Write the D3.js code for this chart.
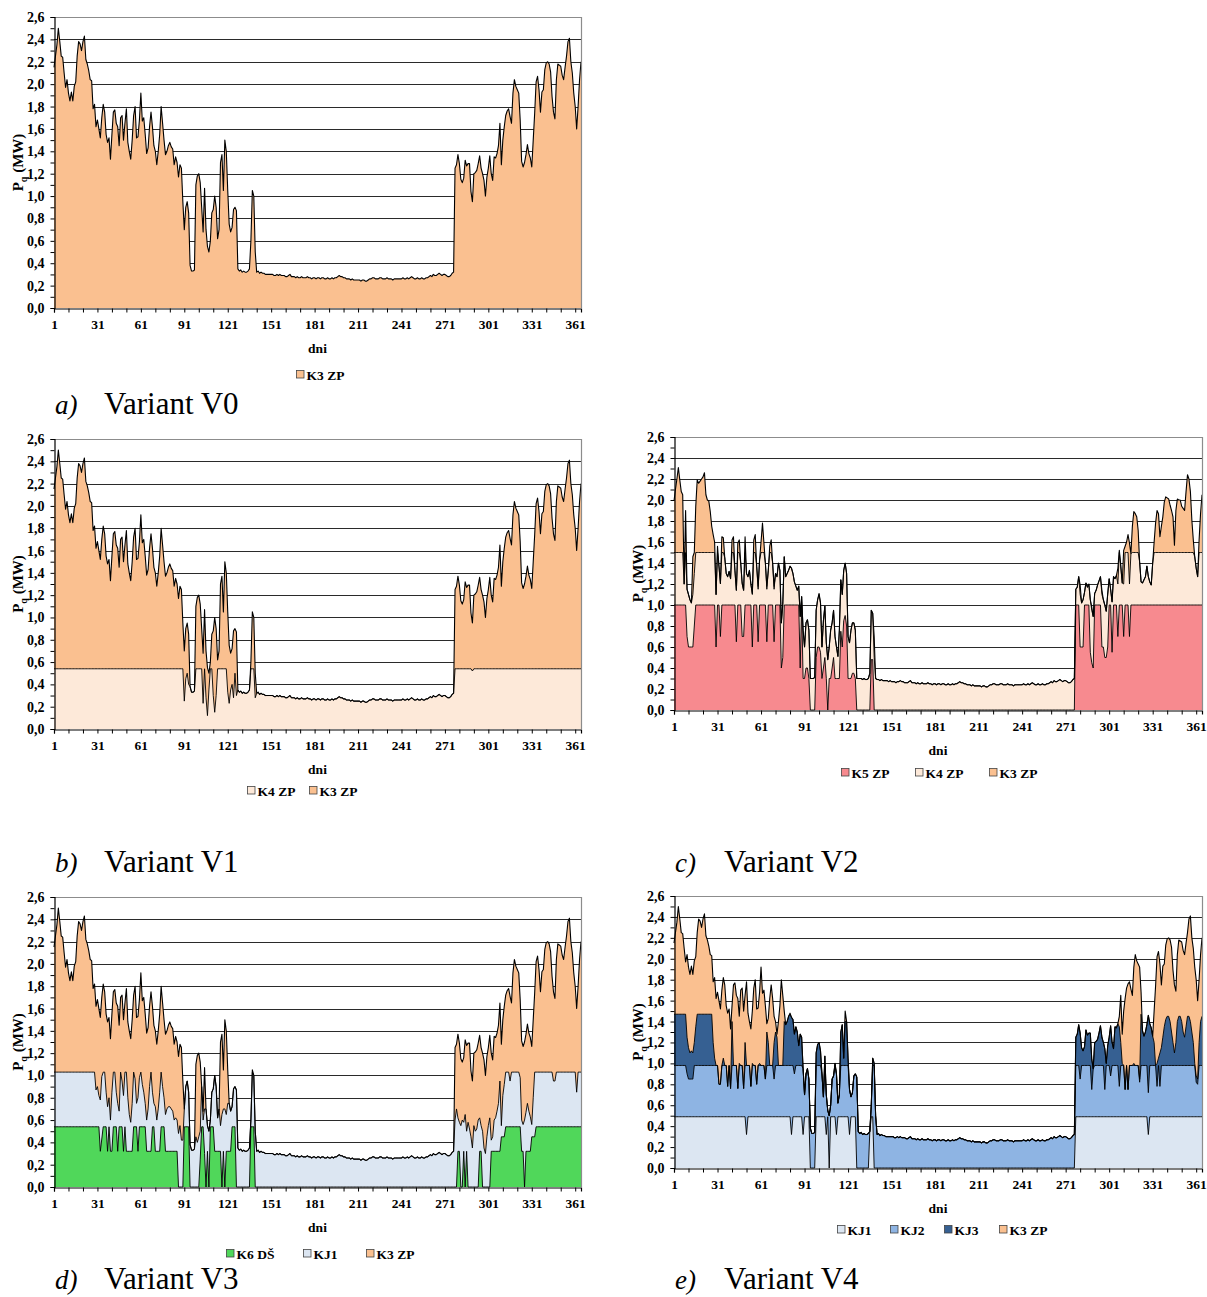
<!DOCTYPE html>
<html><head><meta charset="utf-8">
<script src="https://cdn.jsdelivr.net/npm/d3@7"></script>
<style>
body{margin:0;background:#fff}
svg{display:block}
text{font-family:"Liberation Serif","Times New Roman",serif}
</style>
</head><body>
<svg id="c" width="1207" height="1297"></svg>
<script>
// ---------------- DATA ----------------
const xTickLabels = [1,31,61,91,121,151,181,211,241,271,301,331,361];
const yTickLabels = [0,0.2,0.4,0.6,0.8,1.0,1.2,1.4,1.6,1.8,2.0,2.2,2.4,2.6];

// total daily heat load (variants V0, V1, V3, V4), MW
const demand = [
 2.15,2.25,2.35,2.5,2.38,2.25,2.24,2.1,1.97,2.04,1.92,1.85,1.93,1.85,1.98,2.02,2.25,2.38,2.36,2.3,2.38,2.43,2.22,2.18,2.12,2.04,2.03,1.78,1.82,1.62,
 1.68,1.6,1.52,1.7,1.82,1.75,1.55,1.48,1.52,1.33,1.55,1.75,1.77,1.65,1.62,1.45,1.7,1.72,1.5,1.65,1.78,1.48,1.4,1.33,1.5,1.72,1.8,1.52,1.53,1.68,
 1.92,1.67,1.7,1.55,1.38,1.43,1.62,1.75,1.62,1.45,1.4,1.28,1.4,1.55,1.8,1.65,1.5,1.37,1.4,1.45,1.48,1.44,1.42,1.28,1.35,1.3,1.17,1.28,1.25,0.95,
 0.7,0.9,0.95,0.85,0.38,0.33,0.33,0.34,1.1,1.18,1.2,1.12,0.9,0.68,1.07,0.7,0.55,0.5,0.6,0.85,0.88,1.0,0.9,0.62,0.7,1.3,1.37,1.05,1.5,1.4,
 1.05,0.75,0.68,0.72,0.88,0.9,0.87,0.35,0.33,0.34,0.32,0.33,0.32,0.32,0.33,0.35,0.6,1.05,1.0,0.5,0.32,0.33,0.31,0.32,0.31,0.31,0.30,0.30,0.30,0.30,
 0.30,0.30,0.29,0.29,0.30,0.29,0.30,0.29,0.29,0.29,0.28,0.28,0.29,0.30,0.28,
 0.28,0.28,0.27,0.28,0.27,0.27,0.28,0.27,0.27,0.27,0.28,0.27,0.27,0.26,0.27,
 0.27,0.26,0.27,0.27,0.26,0.27,0.27,0.26,0.26,0.27,0.26,0.26,0.27,0.26,0.27,
 0.27,0.28,0.29,0.28,0.28,0.27,0.27,0.26,0.26,0.26,0.25,0.26,0.25,0.25,0.25,
 0.25,0.25,0.24,0.25,0.25,0.24,0.24,0.25,0.26,0.26,0.27,0.27,0.26,0.26,0.26,
 0.27,0.27,0.26,0.26,0.26,0.27,0.26,0.26,0.26,0.25,0.26,0.26,0.26,0.26,0.26,
 0.26,0.27,0.26,0.26,0.27,0.26,0.27,0.28,0.27,0.26,0.26,0.27,0.26,0.26,0.27,
 0.26,0.26,0.27,0.27,0.28,0.29,0.28,0.30,0.29,0.29,0.30,0.31,0.30,0.29,0.30,
 0.30,0.29,0.28,0.28,0.29,0.31,0.32,
 1.25,1.28,1.37,1.29,1.15,1.12,1.16,1.32,1.27,1.29,1.29,1.04,0.95,
 1.2,1.21,1.23,1.29,1.36,1.25,1.2,1.14,1.0,1.17,1.25,1.36,1.2,1.14,1.35,1.34,1.38,1.45,1.65,1.28,
 1.5,1.62,1.72,1.76,1.78,1.71,1.65,1.92,2.04,1.98,1.95,1.92,1.68,1.31,1.26,1.3,1.37,1.46,1.38,1.34,
 1.26,1.5,1.74,2.02,2.07,1.95,1.75,1.93,1.95,2.13,2.19,2.2,2.18,2.11,1.89,1.75,1.69,2.04,2.18,2.17,
 2.16,2.08,2.04,2.15,2.25,2.38,2.41,2.2,2.1,1.92,1.8,1.6,1.8,2.04,2.2
];

// total daily heat load in variant V2, MW
const demandV2 = [
 1.99,2.1,2.2,2.31,2.19,2.08,2.05,1.2,1.9,1.15,1.1,1.05,1.02,1.46,1.5,1.94,2.19,2.16,2.18,2.2,2.22,2.26,2.05,2.0,1.99,1.89,1.75,1.67,1.6,1.1,
 1.56,1.37,1.21,1.65,1.64,1.45,1.3,1.27,1.32,1.25,1.62,1.65,1.33,1.14,1.59,1.62,1.4,1.21,1.14,1.65,1.3,1.27,1.33,1.2,1.11,1.62,1.67,1.37,1.18,1.43,
 1.6,1.78,1.59,1.4,1.18,1.33,1.56,1.62,1.4,1.18,1.3,1.27,1.4,1.33,0.83,1.02,1.46,1.27,1.3,1.33,1.37,1.35,1.3,1.22,1.18,1.14,1.18,0.89,1.08,0.76,
 0.6,0.83,0.86,0.76,0.3,0.3,0.3,0.31,0.95,1.05,1.11,1.02,0.6,0.85,0.99,0.64,0.48,0.6,0.76,0.83,0.95,0.7,0.6,0.51,0.76,1.24,1.1,1.33,1.4,1.3,
 0.7,0.64,0.76,0.83,0.83,0.76,0.3,0.3,0.3,0.3,0.29,0.3,0.29,0.29,0.3,0.35,0.95,0.92,0.7,0.3,0.29,0.29,0.28,0.29,0.28,0.28,0.28,0.28,0.27,0.28,
 0.27,0.27,0.27,0.26,0.27,0.27,0.28,0.27,0.27,0.26,0.26,0.26,0.27,0.28,0.26,
 0.26,0.26,0.25,0.26,0.25,0.25,0.26,0.25,0.25,0.25,0.26,0.25,0.25,0.24,0.25,
 0.25,0.24,0.25,0.25,0.24,0.25,0.25,0.24,0.24,0.25,0.24,0.24,0.25,0.24,0.25,
 0.25,0.26,0.27,0.26,0.26,0.25,0.25,0.24,0.24,0.24,0.23,0.24,0.23,0.23,0.23,
 0.23,0.23,0.22,0.23,0.23,0.22,0.22,0.23,0.24,0.24,0.25,0.25,0.24,0.24,0.24,
 0.25,0.25,0.24,0.24,0.24,0.25,0.24,0.24,0.24,0.23,0.24,0.24,0.24,0.24,0.24,
 0.24,0.25,0.24,0.24,0.25,0.24,0.25,0.26,0.25,0.24,0.24,0.25,0.24,0.24,0.25,
 0.24,0.24,0.25,0.25,0.26,0.27,0.26,0.28,0.27,0.27,0.28,0.29,0.28,0.27,0.28,
 0.28,0.27,0.26,0.26,0.27,0.29,0.30,
 1.15,1.17,1.27,1.19,1.02,1.05,1.12,1.21,1.17,1.2,1.05,0.98,0.89,
 1.11,1.14,1.19,1.23,1.27,1.14,1.05,1.0,0.94,1.11,1.25,1.15,1.03,1.27,1.25,1.28,1.35,1.52,1.37,1.21,
 1.52,1.56,1.6,1.67,1.59,1.49,1.75,1.89,1.87,1.84,1.71,1.41,1.22,1.21,1.24,1.27,1.37,1.27,1.22,1.19,
 1.4,1.6,1.78,1.9,1.87,1.65,1.75,1.84,1.98,2.03,2.02,2.01,1.95,1.9,1.84,1.57,1.9,2.01,2.0,2.0,
 1.94,1.92,1.9,2.08,2.24,2.2,2.08,1.81,1.62,1.46,1.35,1.27,1.62,1.87,2.05
];

// cumulative upper limits of the lower layers: [fromDay, toDay, MW]
const k4V1Base = [[1,365,0.54]];
const k4V1Over = [[91,91,0.25],[92,92,0.45],[93,93,0.5],[94,94,0.4],[104,104,0.23],[106,106,0.28],[107,107,0.12],[108,108,0.35],[111,111,0.3],[112,112,0.15],[113,113,0.3],[121,121,0.33],[122,122,0.23],[123,123,0.35],[124,124,0.4],[125,125,0.28],[126,126,0.5],[127,127,0.3],[140,140,0.28],[290,290,0.52]];

const k5V2Base = [[1,90,1.0],[91,277,0],[278,365,1.0]];
const k5V2Over = [[10,10,0.7],[11,14,0.6],[15,15,0.8],[30,30,0.6],[33,33,0.7],[44,44,0.65],[48,49,0.7],[55,55,0.6],[59,59,0.65],[65,65,0.65],[70,70,0.65],[75,75,0.4],[76,76,0.5],[88,88,0.4],[90,90,0.3],
 [91,91,0.3],[92,93,0.4],[94,94,0.3],[99,99,0.5],[100,101,0.6],[102,102,0.55],[103,103,0.3],[104,104,0.4],[105,105,0.5],[106,106,0.3],[108,115,0.3],[110,110,0.4],[111,111,0.5],[116,116,0.75],[117,117,0.6],[118,118,0.85],[119,119,0.9],[120,120,0.8],[121,123,0.3],[124,125,0.35],[126,126,0.3],[137,138,0.48],
 [281,283,0.6],[288,288,0.55],[289,289,0.45],[290,290,0.4],[296,297,0.6],[298,299,0.5],[300,300,0.6],[303,303,0.55],[307,307,0.7],[311,311,0.7],[315,315,0.7]];
const k4V2Output = 0.5; // K4 ZP output stacked on K5 ZP

const k6V3Base = [[1,90,0.54],[91,277,0],[278,365,0.54]];
const k6V3Over = [[33,33,0.32],[34,34,0.43],[38,38,0.32],[40,41,0.32],[45,45,0.32],[49,49,0.32],[51,55,0.32],[59,59,0.32],[65,68,0.32],[71,74,0.32],[78,86,0.32],[87,90,0],[91,94,0.54],[102,102,0.25],[103,104,0.54],[105,105,0.3],[107,107,0.32],[109,111,0.54],[112,116,0.32],[118,118,0.32],[120,123,0.32],[124,126,0.54],[137,139,0.54],
 [278,279,0],[280,281,0.32],[282,283,0],[284,284,0.32],[285,285,0],[286,286,0.32],[287,302,0],[295,296,0.32],[303,309,0.32],[310,312,0.45],[324,325,0.32],[326,326,0],[327,330,0.32],[331,333,0.45]];
const kj1V3Base = [[1,365,1.03]];
const kj1V3Over = [[30,30,0.87],[31,31,0.9],[32,32,0.82],[33,33,0.78],[34,34,0.99],[37,37,0.85],[38,38,0.72],[39,39,0.8],[40,40,0.6],[41,41,0.85],[44,44,0.85],[45,45,0.75],[46,46,0.68],[48,48,0.95],[49,49,0.82],[52,52,0.8],[53,53,0.65],[54,54,0.58],[55,55,0.75],[57,57,0.97],[58,58,0.75],[59,59,0.8],[60,60,0.98],[62,62,0.92],[63,63,0.85],[64,64,0.75],[65,65,0.6],[66,66,0.7],[67,67,0.9],[69,69,0.85],[70,70,0.75],[71,71,0.72],[72,72,0.6],[73,73,0.7],[74,74,0.85],[76,76,0.9],[77,77,0.8],[78,78,0.65],[79,79,0.7],[80,81,0.72],[82,82,0.7],[83,83,0.68],[84,84,0.6],[85,85,0.62],[86,86,0.6],[87,87,0.48],[88,88,0.55],[89,90,0.42],
 [99,99,0.45],[100,100,0.4],[101,101,0.45],[102,102,0.5],[104,104,0.6],[105,105,0.7],[116,116,0.55],[117,117,0.65],[118,119,0.7],[120,120,0.65],[121,121,0.75],
 [278,278,0.6],[279,279,0.7],[280,280,0.62],[281,281,0.58],[282,282,0.55],[283,283,0.6],[284,284,0.58],[285,285,0.65],[286,286,0.5],[287,287,0.58],[288,288,0.52],[289,289,0.45],[290,290,0.35],[291,291,0.55],[292,292,0.5],[293,293,0.52],[294,294,0.6],[295,295,0.62],[296,296,0.55],[297,297,0.5],[298,298,0.35],[299,299,0.3],[300,300,0.45],[301,301,0.55],[302,302,0.62],[303,303,0.42],[304,304,0.45],[305,305,0.6],[306,306,0.62],[307,307,0.68],[308,308,0.75],[309,309,0.95],[310,310,0.55],[311,311,0.82],[312,312,0.92],[316,316,0.95],[323,323,0.98],[324,324,0.6],[325,325,0.56],[326,326,0.6],[327,327,0.67],[328,328,0.75],[329,329,0.68],[330,330,0.63],[331,331,0.56],[332,332,0.8],[346,347,0.95],[362,362,0.85]];

const kj1V4Base = [[1,94,0.49],[95,98,0],[99,107,0.49],[108,108,0],[109,126,0.49],[127,135,0],[136,138,0.49],[139,277,0],[278,365,0.49]];
const kj1V4Over = [[51,51,0.32],[82,82,0.32],[90,90,0.32],[106,106,0.32],[113,113,0.32],[122,122,0.32],[328,328,0.32]];
const kj2V4Base = [[1,365,0.98]];
const kj2V4Over = [[10,10,0.9],[11,14,0.85],[32,33,0.8],[38,38,0.78],[40,40,0.76],[45,45,0.76],[49,49,0.76],[54,54,0.78],[58,58,0.8],[64,64,0.85],[70,70,0.85],[84,84,0.9],[281,281,0.85],[289,289,0.75],[298,298,0.75],[302,302,0.88],[308,308,0.78],[312,312,0.75],[314,314,0.75],[322,322,0.82],[328,328,0.72],[334,334,0.78],[336,336,0.78],[361,361,0.82],[362,362,0.8]];
const kj3V4Base = [[1,365,1.47]];
const kj3V4Over = [[10,10,1.25],[11,11,1.15],[12,12,1.1],[13,13,1.12],[14,14,1.1],[15,15,1.2],[16,16,1.35],[28,28,1.2],[29,29,1.05],[30,30,0.95],[31,31,0.85],[32,32,0.8],[33,33,0.78],[34,34,0.85],[35,35,1.05],[36,36,0.9],[37,37,0.8],[38,38,0.76],[39,39,0.8],[40,40,0.75],[41,41,1.4],[42,42,0.98],[43,43,0.85],[44,44,0.8],[45,45,0.76],[46,46,1.0],[47,47,0.8],[48,48,0.85],[49,49,0.75],[50,50,1.2],[51,51,0.9],[52,52,0.85],[53,53,0.78],[54,54,0.76],[55,55,1.0],[56,56,0.85],[57,57,0.8],[58,58,0.8],[59,59,0.85],[60,60,1.0],[61,61,0.9],[62,62,0.85],[63,63,0.8],[64,64,0.85],[65,65,1.3],[66,66,1.2],[67,67,0.8],[68,68,0.8],[69,69,0.85],[70,70,1.2],[71,71,1.3],[72,72,1.25],[73,73,0.9],[74,74,0.85],[75,75,0.85],[76,76,0.95],[77,77,1.4],[119,119,1.4],
 [308,308,1.35],[309,309,1.2],[310,310,1.0],[311,311,0.8],[312,312,0.75],[313,313,0.78],[314,314,0.75],[315,315,0.85],[316,316,0.9],[317,317,0.95],[318,318,1.0],[319,319,0.95],[320,320,0.9],[321,321,0.95],[322,322,0.85],[332,332,1.2],[333,333,0.95],[334,334,1.0],[335,335,1.05],[336,336,1.1],[337,337,1.15],[338,338,1.25],[339,339,1.35],[340,340,1.42],[341,342,1.45],[343,343,1.4],[344,344,1.3],[345,345,1.2],[346,346,1.1],[347,347,1.2],[348,348,1.4],[349,350,1.45],[351,351,1.4],[352,352,1.3],[353,353,1.25],[354,354,1.35],[355,356,1.45],[357,357,1.4],[358,358,1.3],[359,359,1.2],[360,360,1.0],[361,361,0.88],[362,362,0.85],[363,363,1.2],[364,364,1.4],[365,365,1.45]];

// ---------------- HELPERS ----------------
const N = 365;
function series(base, over) {
  const a = new Array(N).fill(0);
  base.concat(over || []).forEach(([f,t,v]) => { for (let d=f; d<=t; d++) a[d-1]=v; });
  return a;
}
const COL = {
  K3: '#FAC090', K4: '#FDE9D9', K5: '#F78A8F', K6: '#50D75A',
  KJ1: '#DCE6F2', KJ2: '#8EB4E3', KJ3: '#366092'
};

const k5V2 = series(k5V2Base, k5V2Over);
const k45V2 = k5V2.map(v => v + k4V2Output);

const panels = [
 {x0:54, x1:581, y0:17, y1:308, dem:demand,
  layers:[{name:'K3 ZP', color:COL.K3, ceil:null}],
  legendX:[296], legendDy:67, cap:['a)','Variant V0'], capX:55, capY:414, titleX:18},
 {x0:54, x1:581, y0:439, y1:729, dem:demand,
  layers:[{name:'K4 ZP', color:COL.K4, ceil:series(k4V1Base,k4V1Over)},{name:'K3 ZP', color:COL.K3, ceil:null}],
  legendX:[247,309], legendDy:62, cap:['b)','Variant V1'], capX:55, capY:872, titleX:18},
 {x0:674, x1:1202, y0:437, y1:710, dem:demandV2,
  layers:[{name:'K5 ZP', color:COL.K5, ceil:k5V2},{name:'K4 ZP', color:COL.K4, ceil:k45V2},{name:'K3 ZP', color:COL.K3, ceil:null}],
  legendX:[841,915,989], legendDy:63, cap:['c)','Variant V2'], capX:675, capY:872, titleX:638},
 {x0:54, x1:581, y0:897, y1:1187, dem:demand,
  layers:[{name:'K6 DŠ', color:COL.K6, ceil:series(k6V3Base,k6V3Over)},{name:'KJ1', color:COL.KJ1, ceil:series(kj1V3Base,kj1V3Over)},{name:'K3 ZP', color:COL.K3, ceil:null}],
  legendX:[226,303,366], legendDy:67, cap:['d)','Variant V3'], capX:55, capY:1289, titleX:18},
 {x0:674, x1:1202, y0:896, y1:1168, dem:demand,
  layers:[{name:'KJ1', color:COL.KJ1, ceil:series(kj1V4Base,kj1V4Over)},{name:'KJ2', color:COL.KJ2, ceil:series(kj2V4Base,kj2V4Over)},{name:'KJ3', color:COL.KJ3, ceil:series(kj3V4Base,kj3V4Over)},{name:'K3 ZP', color:COL.K3, ceil:null}],
  legendX:[837,890,944,999], legendDy:62, cap:['e)','Variant V4'], capX:675, capY:1289, titleX:638}
];

const svg = d3.select('#c');
const fmt = v => d3.format('.1f')(v).replace('.', ',');

panels.forEach(p => {
  const days = d3.range(1, N+1);
  const x = d3.scaleLinear().domain([1, N]).range([p.x0, p.x1]);
  const y = d3.scaleLinear().domain([0, 2.6]).range([p.y1, p.y0]);
  const g = svg.append('g');

  // cumulative tops
  let prev = new Array(N).fill(0);
  const tops = p.layers.map(L => {
    const t = p.dem.map((v, i) => L.ceil ? Math.max(prev[i], Math.min(v, L.ceil[i])) : v);
    prev = t; return t;
  });

  // gridlines
  g.selectAll('line.grid').data(yTickLabels.filter(v => v > 0 && v < 2.6)).enter()
    .append('line').attr('x1', p.x0).attr('x2', p.x1)
    .attr('y1', d => Math.round(y(d)) + 0.5).attr('y2', d => Math.round(y(d)) + 0.5)
    .attr('stroke', '#2a2a2a').attr('stroke-width', 1);

  // areas: paint from top layer down
  for (let i = p.layers.length - 1; i >= 0; i--) {
    const t = tops[i];
    const area = d3.area().x((d, j) => x(days[j])).y0(y(0)).y1((d, j) => y(t[j]));
    g.append('path').datum(t).attr('d', area).attr('fill', p.layers[i].color);
  }
  // boundary lines
  tops.forEach((t, i) => {
    const line = d3.line().x((d, j) => x(days[j])).y(d => y(d));
    g.append('path').datum(t).attr('d', line).attr('fill', 'none')
      .attr('stroke', '#000').attr('stroke-width', i === tops.length - 1 ? 1.1 : 0.9)
      .attr('stroke-linejoin', 'round');
  });

  // frame (top & right)
  g.append('path').attr('d', `M${p.x0},${p.y0 + 0.5}H${p.x1 + 0.5}V${p.y1}`)
    .attr('fill', 'none').attr('stroke', '#8c8c8c').attr('stroke-width', 1.2);

  // y axis
  const ya = d3.axisLeft(y).tickValues(d3.range(0, 27).map(k => k / 10)).tickSize(4).tickPadding(6)
    .tickFormat(v => (Math.round(v * 10) % 2 === 0) ? fmt(v) : '');
  const yg = g.append('g').attr('transform', `translate(${p.x0 + 0.5},0)`).call(ya);
  yg.select('.domain').attr('stroke', '#000').attr('stroke-width', 1.2);
  yg.selectAll('.tick line').attr('stroke', '#000');
  yg.selectAll('text').attr('font-size', 14).attr('font-weight', 'bold').attr('fill', '#000')
    .style('font-family', '"Liberation Serif","Times New Roman",serif');

  // x axis
  const xa = d3.axisBottom(x).tickValues(d3.range(1, N + 1, 10)).tickSize(4).tickPadding(7)
    .tickFormat(d => xTickLabels.includes(d) ? d : '');
  const xg = g.append('g').attr('transform', `translate(0,${p.y1 + 0.5})`).call(xa);
  xg.select('.domain').attr('stroke', '#000').attr('stroke-width', 1.2);
  xg.selectAll('.tick line').attr('stroke', '#000');
  xg.selectAll('text').attr('font-size', 13.5).attr('font-weight', 'bold').attr('fill', '#000')
    .style('font-family', '"Liberation Serif","Times New Roman",serif');

  // axis titles
  g.append('text').attr('x', (p.x0 + p.x1) / 2).attr('y', p.y1 + 45)
    .attr('text-anchor', 'middle').attr('font-size', 13.5).attr('font-weight', 'bold').text('dni');
  const yt = g.append('text').attr('transform', `translate(${p.titleX + 5},${(p.y0 + p.y1) / 2}) rotate(-90)`)
    .attr('text-anchor', 'middle').attr('font-size', 15).attr('font-weight', 'bold');
  yt.append('tspan').text('P');
  yt.append('tspan').attr('dy', 4).attr('font-size', 10).text('q');
  yt.append('tspan').attr('dy', -4).text(' (MW)');

  // legend
  p.layers.forEach((L, i) => {
    const lx = p.legendX[i], ly = p.y1 + p.legendDy;
    g.append('rect').attr('x', lx + 0.5).attr('y', ly - 4.5).attr('width', 7.5).attr('height', 7.5)
      .attr('fill', L.color).attr('stroke', '#444').attr('stroke-width', 0.8);
    g.append('text').attr('x', lx + 10.5).attr('y', ly + 4.5).attr('font-size', 13.5)
      .attr('font-weight', 'bold').text(L.name);
  });

  // caption
  g.append('text').attr('x', p.capX).attr('y', p.capY).attr('font-size', 27)
    .attr('font-style', 'italic').text(p.cap[0]);
  g.append('text').attr('x', p.capX + 49).attr('y', p.capY).attr('font-size', 31).text(p.cap[1]);
});
</script>
</body></html>
